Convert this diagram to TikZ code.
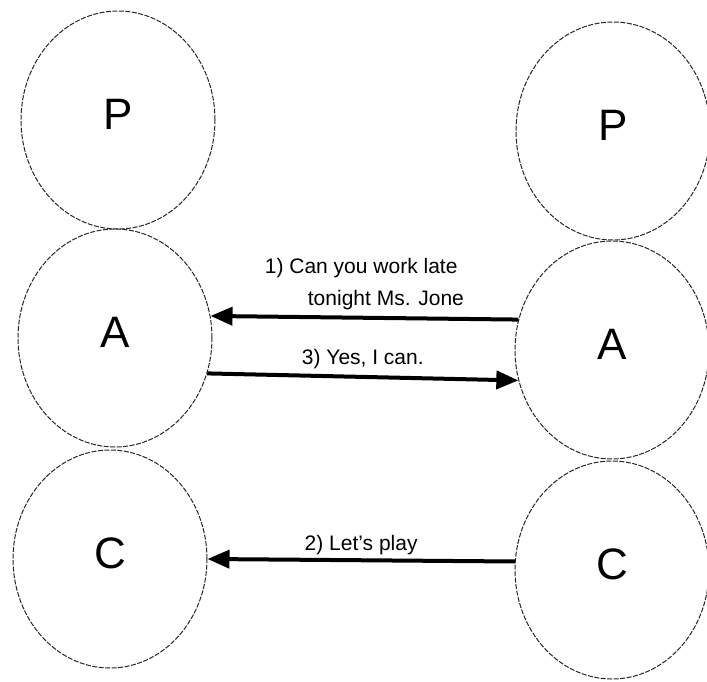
\documentclass[tikz,border=0pt]{standalone}
\usepackage{fontspec}
\setmainfont{Liberation Sans}
\usetikzlibrary{arrows.meta,positioning,shapes.geometric}

\begin{document}
\begin{tikzpicture}[
    x=1pt, y=1pt,
    ego/.style={ellipse, draw=black!85, line width=1pt,
                dash pattern=on 5pt off 1.5pt, inner sep=0pt,
                minimum width=194pt, minimum height=218pt,
                text depth=12pt, font=\fontsize{44}{48}\selectfont},
    msg/.style={font=\fontsize{21}{32}\selectfont, inner sep=0pt, align=left},
    talk/.style={line width=4pt, -{Triangle[length=22pt,width=18pt]}},
]
    \useasboundingbox (0,0) rectangle (707,681);

    % Left person
    \node[ego] (parentL) at (118,561) {P};
    \node[ego] (adultL)  at (115,343) {A};
    \node[ego] (childL)  at (110,122) {C};

    % Right person
    \node[ego] (parentR) at (613,550) {P};
    \node[ego] (adultR)  at (612,331) {A};
    \node[ego] (childR)  at (612,111) {C};

    % Transactions
    \draw[talk] (adultR.162) -- (adultL.13.5)
        node[msg, midway, above=6pt] {1) Can you work late\\\hspace{43pt}tonight Ms. Jone};
    \draw[talk] (adultL.-21.8) -- (adultR.198)
        node[msg, midway, above=6pt] {3) Yes, I can.};
    \draw[talk] (childR.175.8) -- (childL.0.5)
        node[msg, midway, above=3pt] {2) Let's play};
\end{tikzpicture}
\end{document}
